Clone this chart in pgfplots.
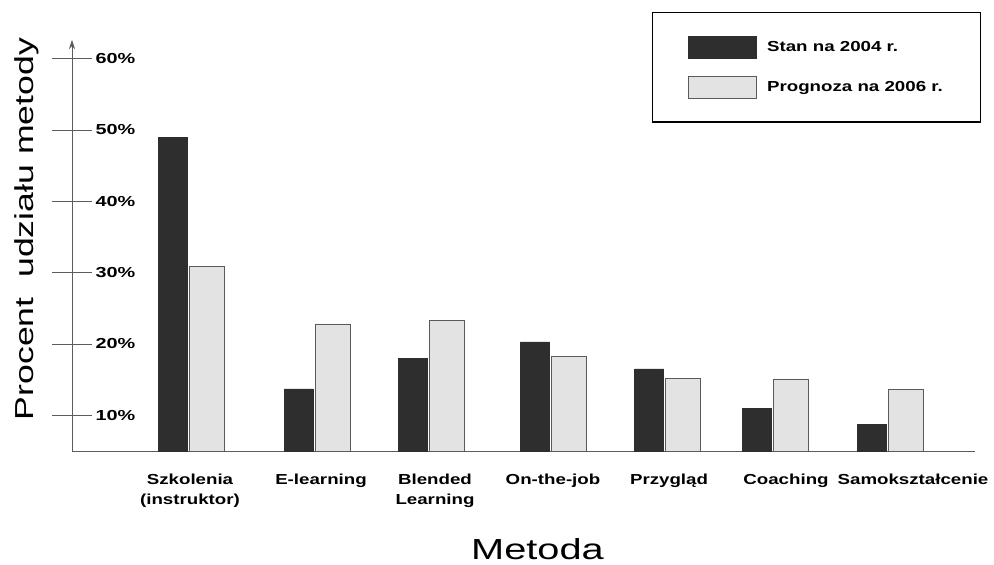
\documentclass[border=0pt]{standalone}
\usepackage{fontspec}
\setmainfont{Liberation Sans}
\usepackage{graphicx}
\usepackage{pgfplots}
\pgfplotsset{compat=1.18}
\usetikzlibrary{arrows.meta}
% the scanned chart has all its text stretched sideways
\newcommand\wide[1]{\scalebox{1.37}[1]{#1}}
\newcommand\wideb[1]{\scalebox{1.29}[1]{#1}}
\definecolor{barDark}{HTML}{2E2E2E}
\definecolor{barLight}{HTML}{E3E3E3}
\definecolor{barEdge}{HTML}{5A5A5A}
\definecolor{axisGray}{HTML}{5C5C5C}

\begin{document}
\begin{tikzpicture}
\path[use as bounding box] (0pt,0pt) rectangle (994pt,-565pt);
\begin{axis}[
    at={(72pt,-451pt)}, anchor=south west,
    scale only axis, width=903pt, height=411pt,
    xmin=72, xmax=975, ymin=5, ymax=62.6,
    axis lines=left,
    axis line style={axisGray, line width=0.8pt},
    x axis line style={-},
    y axis line style={-{Stealth[length=9pt,width=6pt]}},
    font=\bfseries\fontsize{14.5}{20}\selectfont,
    ytick={10,20,30,40,50,60},
    yticklabels={\wide{10\%},\wide{20\%},\wide{30\%},\wide{40\%},\wide{50\%},\wide{60\%}},
    yticklabel style={font=\bfseries\fontsize{14.5}{17}\selectfont, anchor=west, xshift=40pt},
    ytick align=center, y tick style={axisGray, line width=0.8pt},
    major tick length=40pt,
    xtick={190,321,435,553,669,786,913},
    xticklabels={{\wideb{Szkolenia}\\\wideb{(instruktor)}},\wideb{E-learning},{\wideb{Blended}\\\wideb{Learning}},\wideb{On-the-job},\wideb{Przygląd},\wideb{Coaching},\wideb{Samokształcenie}},
    xticklabel style={align=center, anchor=north, yshift=1pt},
    x tick style={draw=none},
    xlabel={\wide{Metoda}},
    xlabel style={at={(axis description cs:0.5155,-0.238)}, anchor=center, font=\mdseries\fontsize{29}{34}\selectfont},
    ylabel={\wide{Procent\ \ udziału metody}},
    ylabel style={at={(axis description cs:-0.0498,0.540)}, anchor=center, font=\mdseries\fontsize{26}{30}\selectfont},
    legend image code/.code={\draw[#1] (0pt,-11pt) rectangle (68pt,11pt);},
    legend style={at={(axis description cs:0.642,1.068)}, anchor=north west,
        draw=black, line width=1.2pt, inner xsep=36pt, inner ysep=23pt, row sep=18pt,
        font=\bfseries\fontsize{14.5}{18}\selectfont, cells={anchor=west},
        /tikz/every odd column/.append style={column sep=8pt}},
]
\addplot[ybar, bar width=29, bar shift=-15.5, fill=barDark, draw=barDark, line width=0.6pt]
    coordinates {(188,49.0) (314,13.7) (428,18.0) (550.5,20.3) (664.5,16.5) (772,11.0) (887,8.7)};
\addplot[ybar, bar width=35, bar shift=18.5, fill=barLight, draw=barEdge, line width=0.8pt]
    coordinates {(188,30.9) (314,22.8) (428,23.3) (550.5,18.3) (664.5,15.2) (772,15.1) (887,13.6)};
\legend{\wideb{Stan na 2004 r.},\wideb{Prognoza na 2006 r.}}
\end{axis}
\end{tikzpicture}
\end{document}
